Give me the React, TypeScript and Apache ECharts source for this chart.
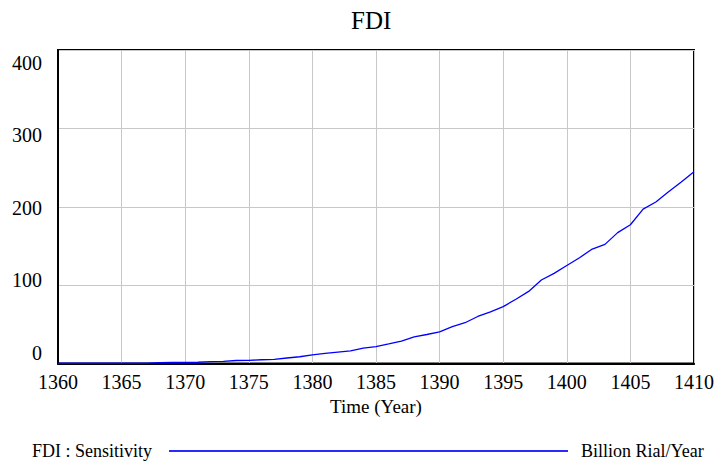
import React, { useEffect, useRef } from "react";
import * as echarts from "echarts";

const years: number[] = [
  1360, 1361, 1362, 1363, 1364, 1365, 1366, 1367, 1368, 1369,
  1370, 1371, 1372, 1373, 1374, 1375, 1376, 1377, 1378, 1379,
  1380, 1381, 1382, 1383, 1384, 1385, 1386, 1387, 1388, 1389,
  1390, 1391, 1392, 1393, 1394, 1395, 1396, 1397, 1398, 1399,
  1400, 1401, 1402, 1403, 1404, 1405, 1406, 1407, 1408, 1409,
  1410,
];

const fdiSensitivity: number[] = [
  0.3, 0.3, 0.3, 0.3, 0.3, 0.3, 0.3, 0.3, 1.2, 1.3,
  1.4, 1.6, 2.5, 2.7, 3.8, 4.0, 4.8, 5.2, 7.0, 8.6,
  11.0, 12.8, 14.5, 16.0, 19.6, 21.5, 25.0, 28.6, 34.0, 37.0,
  40.4, 47.0, 52.0, 60.0, 66.0, 72.5, 82.0, 92.0, 106.5, 115.0,
  125.0, 135.0, 146.0, 152.0, 167.0, 177.0, 197.0, 206.0, 219.0, 231.5,
  244.6,
];

const yTicks: number[] = [0, 100, 200, 300, 400];

const titleText = "FDI";
const xAxisTitle = "Time (Year)";
const seriesName = "FDI : Sensitivity";
const unitText = "Billion Rial/Year";

const FONT = "Liberation Serif";

export default function App() {
  const ref = useRef<HTMLDivElement>(null);

  useEffect(() => {
    if (!ref.current) return;
    const chart = echarts.init(ref.current, undefined, { renderer: "svg" });

    const labelStyleKey: Record<number, string> = {
      0: "l0",
      100: "l100",
      200: "l200",
      300: "l300",
      400: "l400",
    };

    const baseLabel = { fontFamily: FONT, fontSize: 20, color: "#000" };

    chart.setOption({
      animation: false,
      backgroundColor: "#fff",
      textStyle: { fontFamily: FONT, color: "#000" },
      title: {
        text: titleText,
        left: 346,
        top: 3,
        textStyle: {
          fontFamily: FONT,
          fontSize: 25,
          fontWeight: "normal",
          color: "#000",
        },
      },
      grid: {
        left: 58,
        right: 24,
        top: 50,
        bottom: 101.5,
        show: true,
        borderColor: "#000",
        borderWidth: 2,
        backgroundColor: "transparent",
      },
      legend: {
        data: [seriesName],
        left: 27,
        top: 437,
        align: "right",
        icon: "rect",
        itemWidth: 399,
        itemHeight: 2,
        textStyle: {
          fontFamily: FONT,
          fontSize: 18,
          color: "#000",
          padding: [0, 12, 0, 0],
        },
      },
      graphic: [
        {
          type: "text",
          left: 581,
          top: 442,
          style: {
            text: unitText,
            fontFamily: FONT,
            fontSize: 18,
            fill: "#000",
          },
        },
      ],
      xAxis: {
        type: "value",
        min: 1360,
        max: 1410,
        interval: 5,
        name: xAxisTitle,
        nameLocation: "middle",
        nameGap: 33,
        nameTextStyle: { fontFamily: FONT, fontSize: 19, color: "#000" },
        axisLine: { show: true, lineStyle: { color: "#000", width: 2 } },
        axisTick: { show: false },
        axisLabel: {
          margin: 8,
          fontFamily: FONT,
          fontSize: 20,
          color: "#000",
          formatter: (v: number) => String(v),
        },
        splitLine: { show: true, lineStyle: { color: "#c8c8c8", width: 1 } },
      },
      yAxis: {
        type: "value",
        min: 0,
        max: 400,
        interval: 100,
        axisLine: { show: true, lineStyle: { color: "#000", width: 2 } },
        axisTick: { show: false },
        axisLabel: {
          margin: 16,
          ...baseLabel,
          formatter: (v: number) =>
            yTicks.includes(v) ? `{${labelStyleKey[v]}|${v}}` : String(v),
          rich: {
            l0: { ...baseLabel, padding: [0, 0, 21, 0] },
            l100: { ...baseLabel, padding: [0, 0, 11, 0] },
            l200: { ...baseLabel, padding: [2, 0, 0, 0] },
            l300: { ...baseLabel, padding: [14, 0, 0, 0] },
            l400: { ...baseLabel, padding: [26, 0, 0, 0] },
          },
        },
        splitLine: { show: true, lineStyle: { color: "#c8c8c8", width: 1 } },
      },
      series: [
        {
          name: seriesName,
          type: "line",
          data: years.map((y, i) => [y, fdiSensitivity[i]]),
          showSymbol: false,
          symbol: "none",
          lineStyle: { color: "#0000ff", width: 1.3 },
          itemStyle: { color: "#2a2aff" },
        },
      ],
    });

    return () => {
      chart.dispose();
    };
  }, []);

  return (
    <div
      ref={ref}
      style={{ position: "fixed", left: 0, top: 0, width: 718, height: 465 }}
    />
  );
}
